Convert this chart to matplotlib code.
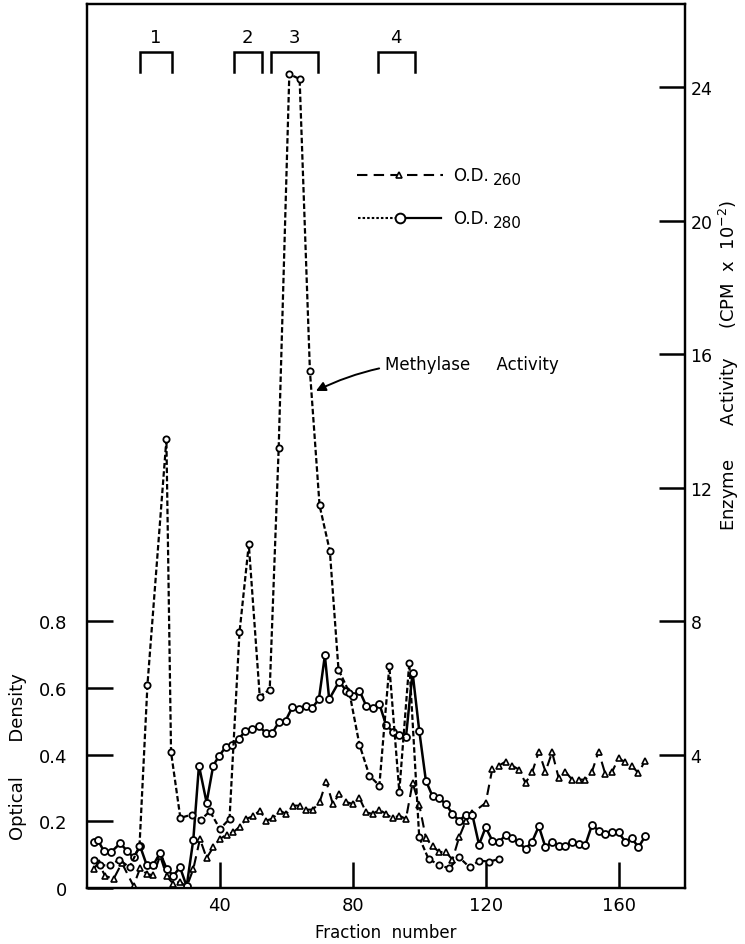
import matplotlib
matplotlib.use("Agg")
import matplotlib.pyplot as plt
from matplotlib.lines import Line2D

# ---------------- data ----------------
# Methylase activity (CPM x 10^-2), right axis
meth_x = [2, 4, 7, 9.7, 12.8, 15.8, 18.2, 23.9, 25.3, 28.1,
          31.5, 34.3, 37, 40, 42.9, 45.9, 48.7, 52, 55, 57.7,
          60.9, 64, 67.1, 70, 73.1, 75.7, 79, 82, 85, 88,
          91, 94, 97, 100, 102.8, 106, 109, 112, 115.2, 118.1,
          121.1, 124]
meth_y = [0.85, 0.68, 0.68, 0.85, 0.62, 1.25, 6.1, 13.45, 4.07, 2.1,
          2.2, 2.05, 2.3, 1.77, 2.07, 7.66, 10.3, 5.74, 5.95, 13.2,
          24.4, 24.25, 15.5, 11.47, 10.1, 6.55, 5.85, 4.3, 3.37, 3.07,
          6.65, 2.89, 6.75, 1.52, 0.87, 0.69, 0.59, 0.92, 0.62, 0.82,
          0.79, 0.87]

# O.D. 280 (left axis)
od280_x = [2, 3.2, 5, 7.2, 10, 12, 14, 16, 18, 20,
           22, 24, 26, 28, 30, 32, 33.7, 36, 38, 39.7,
           41.7, 43.7, 45.7, 47.7, 49.7, 51.8, 53.8, 55.8, 57.8, 59.8,
           61.8, 63.8, 65.8, 67.8, 69.8, 71.6, 72.9, 75.9, 78, 80,
           82, 84, 86, 88, 90, 92, 94, 96, 98, 100,
           102, 104, 106, 108, 110, 112, 114, 116, 118, 120,
           122, 124, 126, 128, 130, 132, 134, 136, 138, 140,
           142, 144, 146, 148, 150, 152, 154, 156, 158, 160,
           162, 164, 166, 168]
od280_y = [0.137, 0.145, 0.112, 0.107, 0.134, 0.112, 0.092, 0.125, 0.068, 0.07,
           0.105, 0.057, 0.037, 0.062, 0.005, 0.145, 0.367, 0.256, 0.367, 0.395,
           0.422, 0.428, 0.448, 0.47, 0.477, 0.485, 0.465, 0.465, 0.498, 0.502,
           0.542, 0.538, 0.546, 0.54, 0.566, 0.697, 0.566, 0.619, 0.592, 0.575,
           0.592, 0.547, 0.54, 0.552, 0.489, 0.469, 0.459, 0.452, 0.646, 0.472,
           0.322, 0.275, 0.269, 0.252, 0.222, 0.202, 0.219, 0.219, 0.13, 0.182,
           0.142, 0.137, 0.159, 0.149, 0.137, 0.117, 0.139, 0.185, 0.122, 0.139,
           0.127, 0.127, 0.139, 0.132, 0.129, 0.189, 0.172, 0.162, 0.167, 0.167,
           0.139, 0.149, 0.122, 0.155]

# O.D. 260 (left axis)
od260_x = [2, 3.5, 5.4, 8, 10.5, 14, 16, 18, 20, 22,
           24, 26, 28, 30, 32, 34, 36, 38, 40, 42,
           44, 46, 48, 50, 52, 54, 56, 58, 60, 62,
           64, 66, 68, 70, 72, 74, 76, 78, 80, 82,
           84, 86, 88, 90, 92, 94, 96, 98, 100, 102,
           104, 106, 108, 110, 112, 114, 116, 120, 122, 124,
           126, 128, 130, 132, 134, 136, 138, 140, 142, 144,
           146, 148, 150, 152, 154, 156, 158, 160, 162, 164,
           166, 168]
od260_y = [0.057, 0.075, 0.037, 0.027, 0.075, 0.006, 0.06, 0.042, 0.038, 0.097,
           0.035, 0.012, 0.019, 0.003, 0.057, 0.147, 0.09, 0.122, 0.147, 0.16,
           0.167, 0.184, 0.207, 0.216, 0.232, 0.202, 0.209, 0.232, 0.222, 0.247,
           0.247, 0.235, 0.235, 0.257, 0.319, 0.252, 0.283, 0.258, 0.252, 0.27,
           0.227, 0.222, 0.235, 0.222, 0.209, 0.217, 0.207, 0.315, 0.25, 0.15,
           0.125, 0.108, 0.108, 0.085, 0.152, 0.2, 0.225, 0.255, 0.357, 0.367,
           0.379, 0.367, 0.355, 0.315, 0.347, 0.409, 0.349, 0.407, 0.329, 0.349,
           0.325, 0.325, 0.325, 0.349, 0.409, 0.342, 0.347, 0.389, 0.377, 0.365,
           0.345, 0.382]

# pooled fractions
pool_labels = ["1", "2", "3", "4"]
pool_start = [15.9, 44.2, 55.3, 87.5]
pool_end = [25.6, 52.6, 69.5, 98.6]

x_ticks = [40, 80, 120, 160]
od_ticks = [0, 0.2, 0.4, 0.6, 0.8]
od_ticklabels = ["0", "0.2", "0.4", "0.6", "0.8"]
enz_ticks = [4, 8, 12, 16, 20, 24]

# ---------------- figure ----------------
plt.rcParams['font.family'] = ['DejaVu Sans']
fig = plt.figure(figsize=(7.45, 9.45), dpi=100)
ax = fig.add_axes([87/745, 1 - 889/945, (685-87)/745, (889-5)/945])
ax2 = ax.twinx()

ax.set_xlim(0, 180)
ax.set_ylim(0, 2.65)
ax2.set_ylim(0, 26.5)

# series
ax.plot(od260_x, od260_y, color='black', lw=1.5, dashes=(5, 3),
        marker='^', ms=4.5, mfc='white', mec='black', mew=1.2, zorder=3)
ax.plot(od280_x, od280_y, color='black', lw=1.8, ls='-',
        marker='o', ms=5, mfc='white', mec='black', mew=1.3, zorder=4)
ax2.plot(meth_x, meth_y, color='black', lw=1.6, dashes=(2.5, 1.2),
         marker='o', ms=4.5, mfc='white', mec='black', mew=1.3, zorder=5)

# spines / ticks
for a in (ax, ax2):
    for s in a.spines.values():
        s.set_linewidth(1.6)
ax.set_xticks(x_ticks)
ax.set_xticklabels([str(t) for t in x_ticks])
ax.set_yticks(od_ticks)
ax.set_yticklabels(od_ticklabels)
ax2.set_yticks(enz_ticks)
ax2.set_yticklabels([str(t) for t in enz_ticks])
ax.tick_params(axis='x', direction='in', length=19, width=1.8, pad=6, labelsize=13)
ax.tick_params(axis='y', direction='in', length=19, width=1.8, pad=14, labelsize=13)
ax2.tick_params(axis='y', direction='in', length=19, width=1.8, pad=4, labelsize=12.5)

ax.set_xlabel("Fraction  number", fontsize=12, labelpad=6)
fig.text(18/745, 1 - 757/945, "Optical      Density", rotation=90, fontsize=13,
         ha='center', va='center')
fig.text(729/745, 1 - 365/945, r"Enzyme      Activity     (CPM  x  10$^{-2}$)",
         rotation=90, fontsize=13, ha='center', va='center')

# pool brackets
for lab, s, e in zip(pool_labels, pool_start, pool_end):
    ax2.plot([s, s, e, e], [24.45, 25.05, 25.05, 24.45], color='black', lw=1.8,
             solid_joinstyle='miter')
    ax2.text((s + e) / 2, 25.25, lab, ha='center', va='bottom', fontsize=13)

# legend (hand drawn)
T = ax.transAxes
ly1, ly2 = 0.807, 0.758
ax.add_line(Line2D([0.4515, 0.595], [ly1, ly1], transform=T, color='black',
                   lw=1.5, dashes=(5, 3)))
ax.add_line(Line2D([0.522], [ly1], transform=T, marker='^', ms=5, mfc='white',
                   mec='black', mew=1.2, color='black'))
ax.text(0.613, ly1, "O.D.", transform=T, fontsize=12, va='center', ha='left')
ax.text(0.678, ly1 - 0.005, "260", transform=T, fontsize=11, va='center', ha='left')

ax.add_line(Line2D([0.453, 0.515], [ly2, ly2], transform=T, color='black',
                   lw=1.5, dashes=(1.2, 1.0)))
ax.add_line(Line2D([0.523, 0.592], [ly2, ly2], transform=T, color='black', lw=1.6))
ax.add_line(Line2D([0.523], [ly2], transform=T, marker='o', ms=7, mfc='white',
                   mec='black', mew=1.4, color='black'))
ax.text(0.613, ly2, "O.D.", transform=T, fontsize=12, va='center', ha='left')
ax.text(0.678, ly2 - 0.005, "280", transform=T, fontsize=11, va='center', ha='left')

# annotation
ax2.annotate("Methylase     Activity", xy=(68.9, 14.9), xytext=(89.6, 15.7),
             fontsize=12, va='center', ha='left',
             arrowprops=dict(arrowstyle='-|>', color='black', lw=1.4,
                             connectionstyle='arc3,rad=0.15',
                             shrinkA=2, shrinkB=0, mutation_scale=14))

fig.savefig("out.png", dpi=100)
